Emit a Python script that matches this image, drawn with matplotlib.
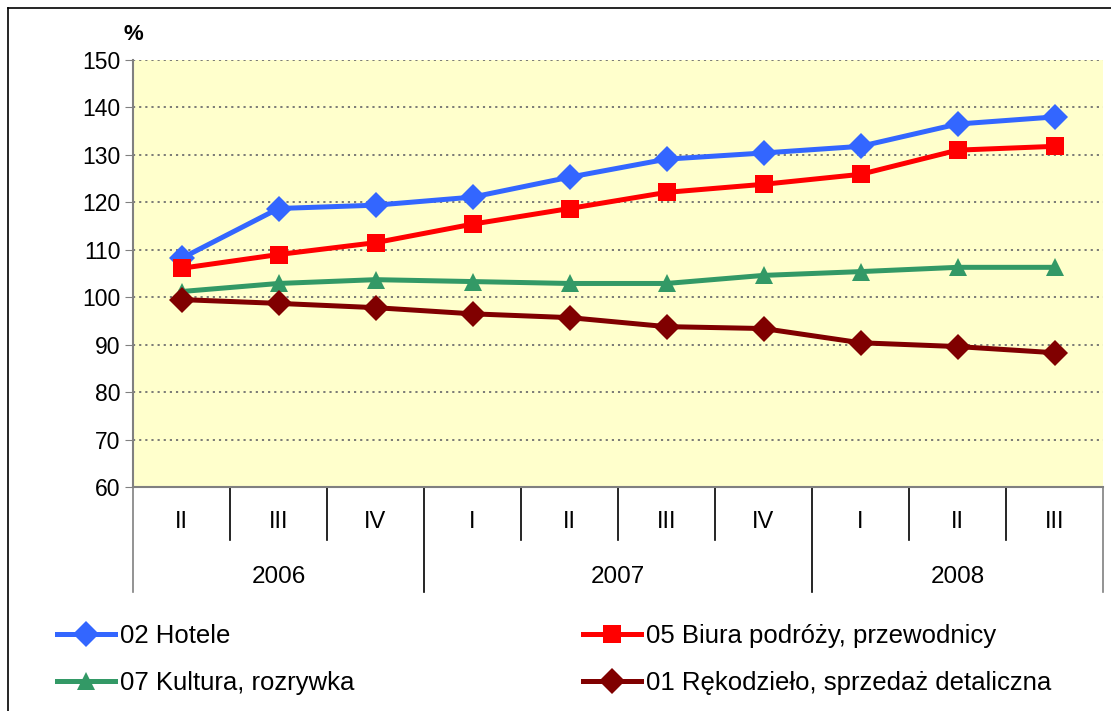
import matplotlib
matplotlib.use("Agg")
import matplotlib.pyplot as plt
from matplotlib.lines import Line2D

plt.rcParams['font.family'] = ['Liberation Sans', 'DejaVu Sans']

quarters = ["II", "III", "IV", "I", "II", "III", "IV", "I", "II", "III"]
years = ["2006", "2007", "2008"]
year_spans = [(0, 2), (3, 6), (7, 9)]

hotele = [108.2, 118.7, 119.4, 121.1, 125.3, 129.1, 130.4, 131.8, 136.5, 138.0]
biura = [106.1, 109.0, 111.5, 115.4, 118.7, 122.1, 123.8, 125.9, 131.0, 131.8]
kultura = [101.2, 102.9, 103.7, 103.3, 102.9, 102.9, 104.6, 105.4, 106.3, 106.3]
rekodzielo = [99.5, 98.7, 97.8, 96.5, 95.7, 93.8, 93.4, 90.4, 89.6, 88.3]

names = ["02 Hotele", "05 Biura podróży, przewodnicy",
         "07 Kultura, rozrywka", "01 Rękodzieło, sprzedaż detaliczna"]

W, H = 1111, 711
fig = plt.figure(figsize=(W / 100, H / 100), dpi=100)
L, R, T, B = 133, 1103, 60, 487
ax = fig.add_axes([L / W, 1 - B / H, (R - L) / W, (B - T) / H])
ax.set_facecolor("#FFFFCC")

x = list(range(len(quarters)))
styles = [
    (hotele, "#3366FF", "D", 13),
    (biura, "#FF0000", "s", 12.5),
    (kultura, "#339966", "^", 13.5),
    (rekodzielo, "#800000", "D", 13),
]
handles = []
for (vals, col, mk, ms), name in zip(styles, names):
    ln, = ax.plot(x, vals, color=col, lw=3.6, marker=mk, markersize=ms,
                  markeredgewidth=0, label=name, zorder=3, clip_on=False)
    handles.append(ln)

ax.set_xlim(-0.5, len(quarters) - 0.5)
ax.set_ylim(60, 150)
ax.set_yticks(range(60, 151, 10))
ax.tick_params(axis='y', labelsize=16.5, length=6, color="#808080", pad=3)
ax.set_xticks([])
ax.yaxis.grid(True, linestyle=(0, (1.2, 2.2)), color="#707070", lw=1.3)
ax.set_axisbelow(True)
for s in ["top", "right"]:
    ax.spines[s].set_visible(False)
for s in ["left", "bottom"]:
    ax.spines[s].set_color("#808080")
    ax.spines[s].set_linewidth(1.5)

ah = B - T
trans = ax.get_xaxis_transform()
q_bot = -(540 - B) / ah
y_bot = -(592 - B) / ah
q_lab = -(522 - B) / ah
y_lab = -(577 - B) / ah

year_edges = set()
for a, b in year_spans:
    year_edges.add(a - 0.5)
    year_edges.add(b + 0.5)
for i in range(len(quarters) + 1):
    xe = i - 0.5
    bottom = y_bot if xe in year_edges else q_bot
    col = "#808080" if xe in (-0.5, len(quarters) - 0.5) else "black"
    ax.plot([xe, xe], [0, bottom], transform=trans, color=col, lw=1.2,
            clip_on=False)
for i, q in enumerate(quarters):
    ax.text(i, q_lab, q, transform=trans, ha='center', va='center', fontsize=17)
for (a, b), yr in zip(year_spans, years):
    ax.text((a + b) / 2, y_lab, yr, transform=trans, ha='center', va='center',
            fontsize=17.5)

fig.text(L / W, 1 - 35 / H, "%", ha='center', va='center', fontsize=16,
         fontweight='bold')

leg_kw = dict(frameon=False, fontsize=18.5, handlelength=2.25, handletextpad=0.2,
              labelspacing=0.88, loc='upper left', borderpad=0, borderaxespad=0)
l1 = fig.legend([handles[0], handles[2]], [names[0], names[2]],
                bbox_to_anchor=(57 / W, 1 - 624 / H), **leg_kw)
l2 = fig.legend([handles[1], handles[3]], [names[1], names[3]],
                bbox_to_anchor=(583 / W, 1 - 624 / H), **leg_kw)

fig.add_artist(Line2D([8 / W, 8 / W], [0, 1 - 8 / H], transform=fig.transFigure,
                      color="black", lw=1.2))
fig.add_artist(Line2D([8 / W, 1], [1 - 8 / H, 1 - 8 / H], transform=fig.transFigure,
                      color="black", lw=1.2))

fig.savefig("out.png", dpi=100)
